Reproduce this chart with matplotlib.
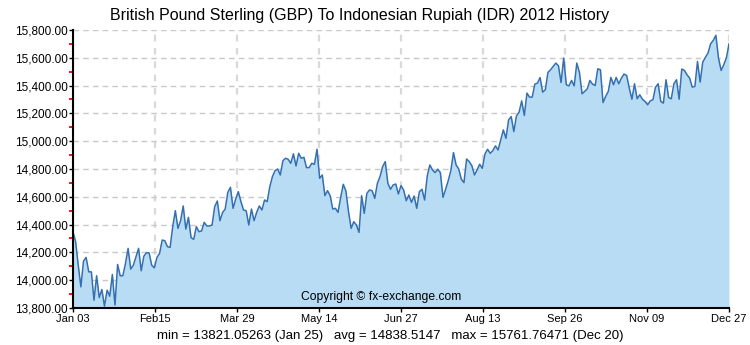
import numpy as np
import matplotlib.pyplot as plt
from matplotlib.ticker import MultipleLocator, FuncFormatter

# GBP -> IDR 2012, one value per business day
rates = [
    14349, 14277, 14108, 13952, 14137, 14164, 14060, 14060, 13856, 14032,
    13875, 13933, 13813, 13928, 13885, 14041, 13821, 14113, 14032, 14032,
    14120, 14229, 14080, 14108, 14169, 14229, 14068, 14173, 14197, 14197,
    14108, 14089, 14164, 14193, 14289, 14284, 14241, 14236, 14385, 14500,
    14373,
    14428, 14534, 14368, 14452, 14306, 14294, 14385, 14349, 14354, 14416,
    14390, 14390, 14397, 14529, 14570, 14428, 14486, 14512, 14632, 14668,
    14517, 14584, 14637, 14565, 14505, 14500, 14397, 14512, 14428, 14488,
    14534, 14505, 14577, 14565, 14673, 14745, 14788, 14800, 14757, 14860,
    14877, 14870, 14841, 14909, 14822, 14913, 14877, 14884, 14810, 14810,
    14841, 14834, 14942, 14733, 14757, 14608, 14644, 14608, 14512, 14517,
    14488, 14594, 14690, 14642, 14493, 14373, 14421, 14397, 14344, 14608,
    14481, 14625, 14649, 14644, 14589, 14697, 14745, 14817, 14853, 14697,
    14654, 14685, 14692, 14620, 14680, 14649, 14572, 14613, 14560, 14606,
    14517, 14637, 14654, 14577, 14750, 14829, 14793, 14774, 14798, 14774,
    14596, 14654, 14716, 14788, 14918, 14829, 14800, 14726, 14702, 14872,
    14853, 14824, 14757, 14793, 14834, 14805, 14908, 14942, 14913, 14932,
    14966, 14937, 15009, 15081, 15021, 15153, 15177, 15069, 15182, 15209,
    15290, 15185, 15346, 15317, 15317, 15410, 15418, 15458, 15353, 15370,
    15495, 15514, 15538, 15562, 15543, 15422, 15598, 15406, 15398, 15437,
    15398, 15562, 15495, 15341, 15358, 15377, 15437, 15410, 15401, 15521,
    15514, 15278, 15322,
    15358, 15459, 15406, 15459, 15413, 15454, 15483, 15473, 15382, 15302,
    15413, 15305, 15334, 15302, 15286, 15262, 15290, 15298, 15389, 15413,
    15286, 15274, 15442, 15314, 15305, 15413, 15442, 15302, 15519, 15509,
    15478, 15454, 15389, 15394, 15574, 15425, 15569, 15603, 15634, 15701,
    15725, 15761.76, 15598, 15509, 15550, 15598, 15701,
]
tick_labels = ['Jan 03', 'Feb15', 'Mar 29', 'May 14', 'Jun 27',
               'Aug 13', 'Sep 26', 'Nov 09', 'Dec 27']

title = 'British Pound Sterling (GBP) To Indonesian Rupiah (IDR) 2012 History'
summary = 'min = 13821.05263 (Jan 25)   avg = 14838.5147   max = 15761.76471 (Dec 20)'

plt.rcParams['font.family'] = ['Liberation Sans', 'DejaVu Sans']

x = np.arange(len(rates))
y_lo, y_hi = 13800, 15800

fig = plt.figure(figsize=(7.5, 3.45), dpi=100)
ax = fig.add_axes([73/750, 37/345, 656/750, 278/345])

ax.fill_between(x, rates, y_lo, color='#b9dcf5', lw=0, zorder=2)
ax.plot(x, rates, color='#3470b0', lw=1.1, zorder=3)

ax.set_xlim(0, len(rates) - 1)
ax.set_ylim(y_lo, y_hi)

# ticks
ax.set_xticks(np.linspace(0, len(rates) - 1, len(tick_labels)))
ax.set_xticklabels(tick_labels)
ax.yaxis.set_major_locator(MultipleLocator(200))
ax.yaxis.set_minor_locator(MultipleLocator(100))
ax.yaxis.set_major_formatter(FuncFormatter(lambda v, p: '{:,.2f}'.format(v)))
ax.tick_params(axis='both', which='major', direction='out', length=3,
               width=1, color='black', pad=1)
ax.tick_params(axis='y', which='major', labelsize=8.5)
ax.tick_params(axis='x', which='major', labelsize=8)
ax.tick_params(axis='y', which='minor', direction='out', length=3,
               width=1.3, color='#ff0000')

ax.yaxis.grid(True, which='major', color='#c8c8c8', lw=1, ls=(0, (4, 3)))
ax.xaxis.grid(True, which='major', color='#d9d9d9', lw=1.6, ls=(0, (3, 3)))
ax.set_axisbelow(True)

for side in ['top', 'right']:
    ax.spines[side].set_visible(False)
for side in ['left', 'bottom']:
    ax.spines[side].set_linewidth(1.5)
    ax.spines[side].set_zorder(5)

fig.text(0.48, 0.955, title, ha='center', va='center', fontsize=11.5)
fig.text(0.52, 0.025, summary, ha='center', va='center', fontsize=9.5)
ax.text(0.47, 0.04, 'Copyright \u00a9 fx-exchange.com', transform=ax.transAxes,
        ha='center', va='center', fontsize=8.7, zorder=6)

fig.savefig('out.png', dpi=100)
